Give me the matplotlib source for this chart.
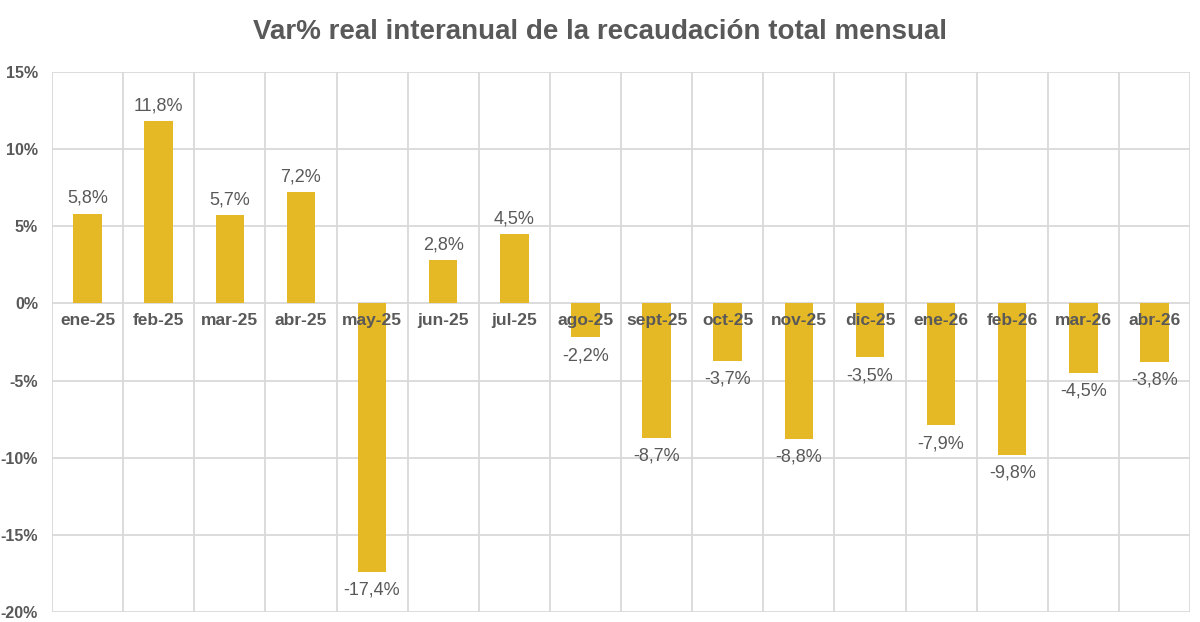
import matplotlib
matplotlib.use("Agg")
import matplotlib.pyplot as plt
from matplotlib.ticker import FixedLocator

plt.rcParams['font.family'] = ['Liberation Sans', 'DejaVu Sans']

categories = ["ene-25", "feb-25", "mar-25", "abr-25", "may-25", "jun-25", "jul-25",
              "ago-25", "sept-25", "oct-25", "nov-25", "dic-25", "ene-26", "feb-26",
              "mar-26", "abr-26"]
values = [5.8, 11.8, 5.7, 7.2, -17.4, 2.8, 4.5, -2.2, -8.7, -3.7, -8.8, -3.5,
          -7.9, -9.8, -4.5, -3.8]
yticks = [-20, -15, -10, -5, 0, 5, 10, 15]
title = "Var% real interanual de la recaudación total mensual"

bar_color = "#E5B826"
grid_color = "#D9D9D9"
text_color = "#595959"

fig = plt.figure(figsize=(12, 6.22), dpi=100)
ax = fig.add_axes([52/1200, 1 - 612/622, (1190-52)/1200, (612-72)/622])

n = len(categories)
xs = list(range(n))
ax.bar(xs, values, width=0.4, color=bar_color, zorder=3)

ax.set_xlim(-0.5, n - 0.5)
ax.set_ylim(-20, 15)

ax.set_yticks(yticks)
ax.set_yticklabels([f"{t}%" for t in yticks])
ax.tick_params(axis='y', length=0, pad=10, labelsize=11.5, labelcolor=text_color)
for lbl in ax.get_yticklabels():
    lbl.set_fontweight('bold')

ax.xaxis.set_major_locator(FixedLocator([i - 0.5 for i in range(n + 1)]))
ax.set_xticklabels([])
ax.tick_params(axis='x', length=0)
ax.grid(True, color=grid_color, linewidth=1.3, zorder=0)

for s in ax.spines.values():
    s.set_visible(False)

for i, (c, v) in enumerate(zip(categories, values)):
    ax.annotate(c, (i, 0), xytext=(0, -7), textcoords='offset points',
                ha='center', va='top', fontsize=12.5, fontweight='bold',
                color=text_color, zorder=5)
    lab = f"{v:.1f}%".replace('.', ',')
    if v >= 0:
        ax.annotate(lab, (i, v), xytext=(0, 5), textcoords='offset points',
                    ha='center', va='bottom', fontsize=13, color=text_color, zorder=5)
    else:
        ax.annotate(lab, (i, v), xytext=(0, -7), textcoords='offset points',
                    ha='center', va='top', fontsize=13, color=text_color, zorder=5)

fig.text(0.5, 1 - 32/622, title, ha='center', va='center', fontsize=20,
         fontweight='bold', color=text_color)

fig.savefig("out.png", dpi=100)
